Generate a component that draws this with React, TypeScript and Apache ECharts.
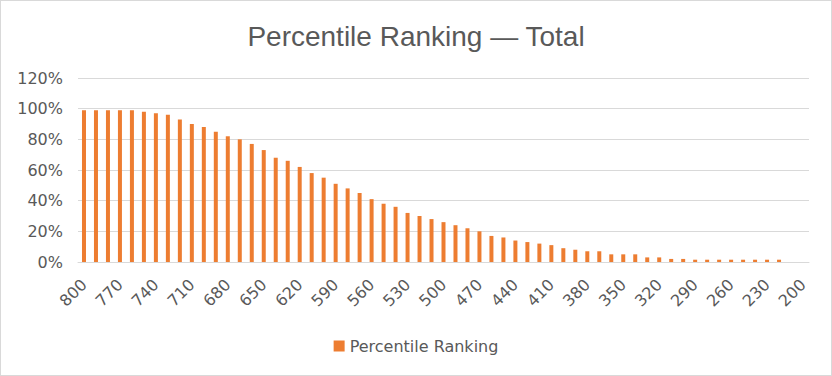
import React, { useEffect, useRef } from "react";
import * as echarts from "echarts";

const categories: string[] = [];
for (let s = 800; s >= 200; s -= 10) categories.push(String(s));

const percentile: number[] = [
  99, 99, 99, 99, 99, 98, 97, 96, 93, 90,
  88, 85, 82, 80, 77, 73, 68, 66, 62, 58,
  55, 51, 48, 45, 41, 38, 36, 32, 30, 28,
  26, 24, 22, 20, 17, 16, 14, 13, 12, 11,
  9, 8, 7, 7, 5, 5, 5, 3, 3, 2,
  2, 1.5, 1.5, 1.5, 1.5, 1.5, 1.5, 1.5, 1.5, 0,
  0,
];

const yTicks = [0, 20, 40, 60, 80, 100, 120];

export default function App() {
  const ref = useRef<HTMLDivElement>(null);
  useEffect(() => {
    document.body.style.margin = "0";
    const chart = echarts.init(ref.current!, null, { renderer: "svg" });
    const font = "'DejaVu Sans', 'Liberation Sans', sans-serif";
    chart.setOption({
      animation: false,
      backgroundColor: "#ffffff",
      title: {
        text: "Percentile Ranking — Total",
        left: "center",
        top: 16,
        textStyle: {
          fontFamily: "'Liberation Sans', Arial, sans-serif",
          fontSize: 28,
          fontWeight: "normal",
          color: "#595959",
        },
      },
      legend: {
        bottom: 16,
        left: "center",
        itemWidth: 11,
        itemHeight: 11,
        itemGap: 6,
        icon: "rect",
        textStyle: { fontFamily: font, fontSize: 16, color: "#595959" },
        data: ["Percentile Ranking"],
      },
      grid: { left: 77, right: 22, top: 77, bottom: 113 },
      xAxis: {
        type: "category",
        data: categories,
        axisLine: { lineStyle: { color: "#d9d9d9", width: 1 } },
        axisTick: { show: false },
        axisLabel: {
          interval: 2,
          rotate: 45,
          fontFamily: font,
          fontSize: 16,
          color: "#595959",
          margin: 20,
        },
      },
      yAxis: {
        type: "value",
        min: yTicks[0],
        max: yTicks[yTicks.length - 1],
        interval: 20,
        axisLine: { show: false },
        axisTick: { show: false },
        splitLine: { lineStyle: { color: "#d9d9d9", width: 1 } },
        axisLabel: {
          formatter: "{value}%",
          fontFamily: font,
          fontSize: 16,
          color: "#595959",
          margin: 15,
        },
      },
      series: [
        {
          name: "Percentile Ranking",
          type: "bar",
          data: percentile,
          barWidth: 4,
          itemStyle: { color: "#ED7D31" },
        },
      ],
    });
    return () => chart.dispose();
  }, []);
  return (
    <div
      ref={ref}
      style={{
        position: "absolute",
        left: 0,
        top: 0,
        width: 832,
        height: 376,
        boxSizing: "border-box",
        border: "1px solid #d9d9d9",
      }}
    />
  );
}
